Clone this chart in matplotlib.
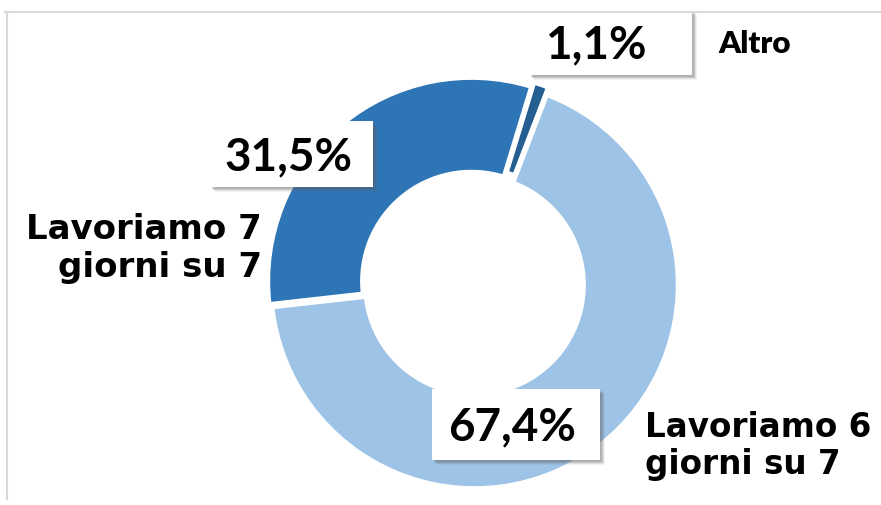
import matplotlib
matplotlib.use("Agg")
import matplotlib.pyplot as plt
from matplotlib.lines import Line2D
from matplotlib.patches import Rectangle

W, H = 881, 506
categories = ["Altro", "Lavoriamo 6\ngiorni su 7", "Lavoriamo 7\ngiorni su 7"]
values = [1.1, 67.4, 31.5]
value_labels = ["1,1%", "67,4%", "31,5%"]
colors = ["#255E91", "#9DC3E6", "#2E75B6"]

plt.rcParams['font.family'] = ['Lato', 'DejaVu Sans']

fig = plt.figure(figsize=(W / 100, H / 100), dpi=100)
fig.patch.set_facecolor("white")

# donut axes placed in pixel terms
cx, cy, R = 473, 284, 203
ax = fig.add_axes([(cx - R) / W, (H - cy - R) / H, 2 * R / W, 2 * R / H])
wedges, _ = ax.pie(values, colors=colors, startangle=73, counterclock=False,
                   explode=[0.03, 0.012, 0.012],
                   wedgeprops=dict(width=0.46, edgecolor="white", linewidth=2.5))
for w in wedges:
    w.set_clip_on(False)
ax.set_xlim(-1, 1)
ax.set_ylim(-1, 1)
ax.set_aspect("equal")
ax.axis("off")


def fx(x):
    return x / W


def fy(y):
    return 1 - y / H


def label_box(x0, x1, y0, y1):
    # soft drop shadow (bottom-right) then white box
    for off, a in [(5, 0.08), (4, 0.12), (3, 0.18), (2, 0.22)]:
        fig.add_artist(Rectangle((fx(x0 + off), fy(y1 + off)), (x1 - x0) / W, (y1 - y0) / H,
                                 transform=fig.transFigure, facecolor="#606060",
                                 edgecolor="none", alpha=a, zorder=3))
    fig.add_artist(Rectangle((fx(x0), fy(y1)), (x1 - x0) / W, (y1 - y0) / H,
                             transform=fig.transFigure, facecolor="white",
                             edgecolor="none", zorder=4))


boxes = [(529, 692, 11, 76), (432, 600, 390, 461), (210, 373, 122, 188)]
text_x = [545, 448, 225]
for lbl, (x0, x1, y0, y1), tx in zip(value_labels, boxes, text_x):
    label_box(x0, x1, y0, y1)
    fig.text(fx(tx), fy((y0 + y1) / 2 + 2), lbl, ha="left", va="center", fontsize=33,
             fontweight="bold", color="black", zorder=5)

# chart border (top and left)
fig.add_artist(Line2D([fx(5), 1], [fy(13), fy(13)], color="#D9D9D9", lw=1.5, zorder=6))
fig.add_artist(Line2D([fx(7), fx(7)], [fy(13), fy(500)], color="#D9D9D9", lw=1.5, zorder=6))

# category labels
fig.text(fx(718), fy(53), categories[0], ha="left", va="baseline", fontsize=22.5,
         fontweight="heavy")
lab6 = categories[1].split("\n")
fig.text(fx(645), fy(437), lab6[0], ha="left", va="baseline", fontsize=23.5,
         fontweight="bold", family="DejaVu Sans")
fig.text(fx(645), fy(474), lab6[1], ha="left", va="baseline", fontsize=23.5,
         fontweight="bold", family="DejaVu Sans")
lab7 = categories[2].split("\n")
fig.text(fx(262), fy(239), lab7[0], ha="right", va="baseline", fontsize=24.5,
         fontweight="bold", family="DejaVu Sans")
fig.text(fx(262), fy(277), lab7[1], ha="right", va="baseline", fontsize=24.5,
         fontweight="bold", family="DejaVu Sans")

fig.savefig("out.png", dpi=100, facecolor="white")
